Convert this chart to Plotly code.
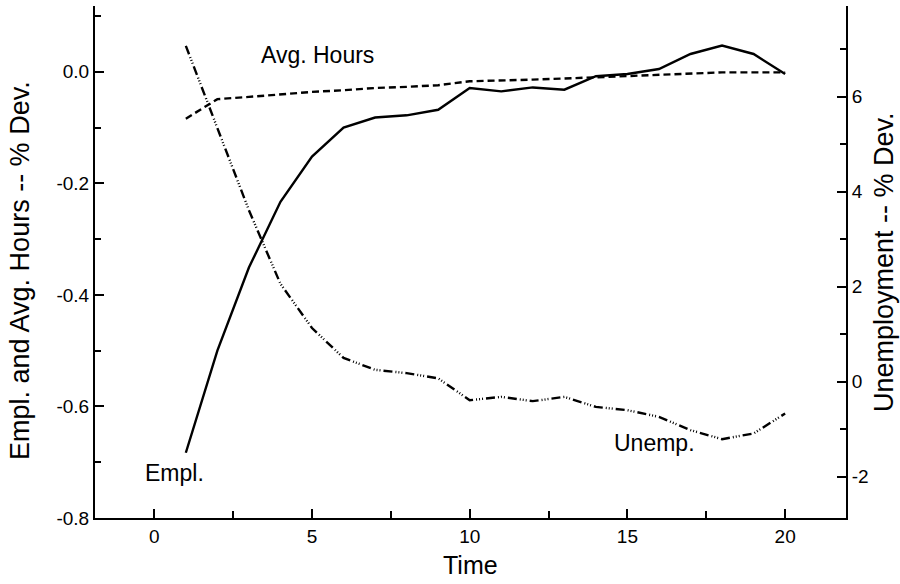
import plotly.graph_objects as go

time = list(range(1, 21))
empl = [-0.683, -0.500, -0.351, -0.233, -0.152, -0.100, -0.082, -0.078, -0.068, -0.029,
        -0.035, -0.028, -0.032, -0.008, -0.004, 0.005, 0.032, 0.047, 0.032, -0.004]
avg_hours = [-0.084, -0.049, -0.045, -0.040, -0.036, -0.033, -0.029, -0.027, -0.024, -0.017,
             -0.016, -0.014, -0.012, -0.010, -0.008, -0.006, -0.003, -0.001, -0.001, -0.001]
unemp = [7.07, 5.34, 3.61, 2.06, 1.13, 0.50, 0.25, 0.18, 0.07, -0.39,
         -0.32, -0.41, -0.32, -0.53, -0.60, -0.74, -1.02, -1.21, -1.09, -0.67]

left_ticks = [0.0, -0.2, -0.4, -0.6, -0.8]
left_ticktext = ["0.0", "-0.2", "-0.4", "-0.6", "-0.8"]
right_ticks = [-2, 0, 2, 4, 6]
right_ticktext = ["-2", "0", "2", "4", "6"]
x_ticks = [0, 5, 10, 15, 20]

FONT = "Liberation Sans, Arial, Helvetica, sans-serif"

fig = go.Figure()
fig.add_trace(go.Scatter(x=time, y=empl, mode="lines", line=dict(color="black", width=2.4),
                         yaxis="y", showlegend=False))
fig.add_trace(go.Scatter(x=time, y=avg_hours, mode="lines",
                         line=dict(color="black", width=2.4, dash="7px,4px"),
                         yaxis="y", showlegend=False))
fig.add_trace(go.Scatter(x=time, y=unemp, mode="lines",
                         line=dict(color="black", width=2.4, dash="9px,3px,1px,2px,1px,2px,1px,3px"),
                         yaxis="y2", showlegend=False))

axis_common = dict(showline=True, linecolor="black", linewidth=2, ticks="inside",
                   tickcolor="black", tickwidth=1.5, ticklen=9, showgrid=False,
                   zeroline=False, tickfont=dict(family=FONT, size=19, color="black"))

fig.update_layout(
    width=900, height=584,
    margin=dict(l=95, r=54, t=6, b=66),
    plot_bgcolor="white", paper_bgcolor="white",
    font=dict(family=FONT, color="black"),
    xaxis=dict(range=[-1.88, 21.93], tickvals=x_ticks, ticktext=[str(v) for v in x_ticks],
               minor=dict(tickvals=[2.5, 7.5, 12.5, 17.5], ticks="inside", ticklen=7,
                          tickcolor="black", tickwidth=1.5),
               mirror=False, **axis_common),
    yaxis=dict(range=[-0.8, 0.118], tickvals=left_ticks, ticktext=left_ticktext,
               minor=dict(tickvals=[0.1, -0.1, -0.3, -0.5, -0.7], ticks="inside", ticklen=6,
                          tickcolor="black", tickwidth=1.5),
               **axis_common),
    yaxis2=dict(range=[-2.87, 7.91], overlaying="y", side="right", anchor="x",
                tickvals=right_ticks, ticktext=right_ticktext,
                minor=dict(tickvals=[-1, 1, 3, 5, 7], ticks="inside", ticklen=6,
                           tickcolor="black", tickwidth=1.5),
                **axis_common),
)

fig.add_annotation(text="Time", xref="paper", yref="paper", x=0.5, y=0, yshift=-47,
                   xanchor="center", yanchor="middle", showarrow=False,
                   font=dict(family=FONT, size=25, color="black"))
fig.add_annotation(text="Empl. and Avg. Hours -- % Dev.", xref="paper", yref="paper",
                   x=0, xshift=-75, y=0.5, yshift=-9, xanchor="center", yanchor="middle",
                   textangle=-90, showarrow=False, font=dict(family=FONT, size=27, color="black"))
fig.add_annotation(text="Unemployment -- % Dev.", xref="paper", yref="paper",
                   x=1.0, xshift=38, y=0.5, yshift=0, xanchor="center", yanchor="middle",
                   textangle=-90, showarrow=False, font=dict(family=FONT, size=27, color="black"))

label_font = dict(family=FONT, size=23, color="black")
fig.add_annotation(text="Avg. Hours", x=3.32, y=0.030, xref="x", yref="y",
                   xanchor="left", yanchor="middle", showarrow=False, font=label_font)
fig.add_annotation(text="Empl.", x=-0.36, y=-0.719, xref="x", yref="y",
                   xanchor="left", yanchor="middle", showarrow=False, font=label_font)
fig.add_annotation(text="Unemp.", x=14.5, y=-0.665, xref="x", yref="y",
                   xanchor="left", yanchor="middle", showarrow=False, font=label_font)

fig.write_html("out.html")
